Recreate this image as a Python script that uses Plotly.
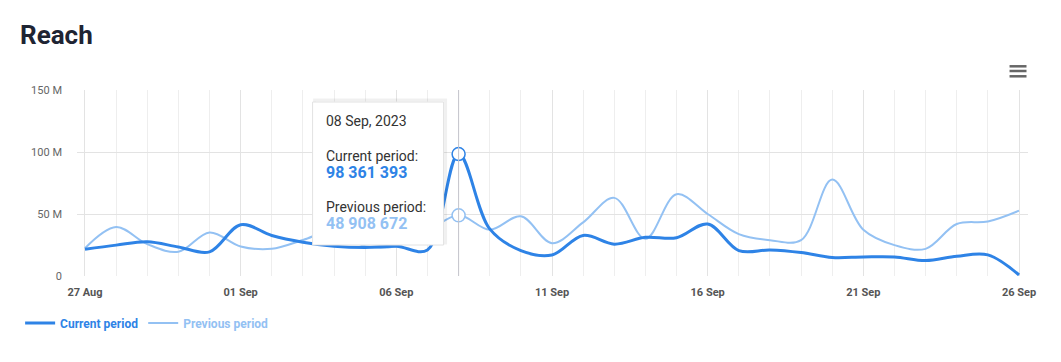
import pandas as pd
import plotly.graph_objects as go

# ---- data ----
dates = pd.date_range("2023-08-27", "2023-09-26", freq="D")
current_m = [21.6, 24.9, 27.6, 23.4, 19.5, 41.4, 32.7, 27.3, 24.0, 23.0, 24.0, 21.0,
             98.361393, 38.0, 20.5, 17.0, 32.7, 25.7, 31.2, 30.8, 41.9, 20.5,
             21.0, 18.9, 14.9, 15.4, 15.4, 12.4, 15.9, 17.0, 0.8]
previous_m = [22.4, 39.5, 25.7, 19.5, 35.1, 23.8, 21.9, 29.0, 36.5, 24.0, 24.0, 36.0,
              48.908672, 37.3, 48.1, 26.5, 43.2, 63.0, 30.0, 65.9, 50.0, 33.8,
              28.9, 28.9, 77.8, 37.3, 24.9, 21.9, 41.9, 44.0, 52.7]
current = [v * 1e6 for v in current_m]
previous = [v * 1e6 for v in previous_m]
y_tickvals = [0, 50e6, 100e6, 150e6]
y_ticktext = ["0", "50 M", "100 M", "150 M"]
hover_idx = 12

C_CUR = "#2e83e6"
C_PREV = "#93c1f3"
FONT = "Roboto"

# page has an 8px body margin -> figure drawn 8px in/down
W, H = 1053, 354
PL, PT = 67, 82          # plot area left / top in figure px
PW, PH = 953, 186        # plot area size

fig = go.Figure()
fig.add_trace(go.Scatter(
    x=dates, y=previous, mode="lines",
    name="<b><span style='color:%s'>Previous period</span></b>" % C_PREV,
    line=dict(color=C_PREV, width=2, shape="spline", smoothing=1),
))
fig.add_trace(go.Scatter(
    x=dates, y=current, mode="lines",
    name="<b><span style='color:%s'>Current period</span></b>" % C_CUR,
    line=dict(color=C_CUR, width=3, shape="spline", smoothing=1),
))
# hover markers
fig.add_trace(go.Scatter(
    x=[dates[hover_idx], dates[hover_idx]],
    y=[previous[hover_idx], current[hover_idx]],
    mode="markers", showlegend=False,
    marker=dict(size=13, color="white", line=dict(width=1.5, color=[C_PREV, C_CUR])),
))

day = pd.Timedelta(days=1)
x_range = [dates[0] - day * (8 / 31.2), dates[-1] + day * (9 / 31.2)]

fig.update_layout(
    width=W, height=H,
    margin=dict(l=PL, r=W - PL - PW, t=PT, b=H - PT - PH),
    paper_bgcolor="white", plot_bgcolor="white",
    font=dict(family=FONT, size=11, color="#666666"),
    hovermode=False,
    title=dict(text="<b>Reach</b>", x=12 / W, xref="container", xanchor="left",
               y=1 - 27 / H, yref="container", yanchor="middle",
               font=dict(family=FONT, size=26, color="#1e2433")),
    showlegend=True,
    legend=dict(orientation="h", x=(10 - PL) / PW, xanchor="left", y=-47 / PH, yanchor="middle",
                traceorder="reversed", font=dict(family=FONT, size=12),
                bgcolor="rgba(0,0,0,0)"),
    xaxis=dict(
        type="date", range=x_range,
        tick0=dates[0], dtick=5 * 86400000, tickformat="%d %b",
        showgrid=True, gridcolor="#e3e3e3", gridwidth=1,
        minor=dict(dtick=86400000, tick0=dates[0], showgrid=True, gridcolor="#eeeeee"),
        tickfont=dict(family=FONT, size=11, color="#555555", weight="bold"),
        ticks="", ticklabelstandoff=8, showline=False, zeroline=False,
    ),
    yaxis=dict(
        range=[0, 150e6], tickvals=y_tickvals, ticktext=y_ticktext,
        showgrid=True, gridcolor="#e3e3e3", gridwidth=1, zeroline=False,
        tickfont=dict(family=FONT, size=11, color="#666666"),
        ticks="", ticklabelstandoff=14, showline=False,
    ),
)

# crosshair
fig.add_shape(type="line", xref="x", yref="paper", x0=dates[hover_idx], x1=dates[hover_idx],
              y0=0, y1=1, line=dict(color="#c4c4cc", width=1), layer="above")

# tooltip box (pixel sized relative to hovered point)
fig.add_shape(type="rect", xref="x", yref="y", xsizemode="pixel", ysizemode="pixel",
              xanchor=dates[hover_idx], yanchor=150e6,
              x0=-144, x1=-13, y0=-153, y1=-10,
              line=dict(color="rgba(0,0,0,0.06)", width=3), fillcolor="rgba(0,0,0,0)", layer="above")
fig.add_shape(type="rect", xref="x", yref="y", xsizemode="pixel", ysizemode="pixel",
              xanchor=dates[hover_idx], yanchor=150e6,
              x0=-146, x1=-15, y0=-155, y1=-12,
              line=dict(color="#e2e2e2", width=1), fillcolor="white", layer="above")

def fmt(v):
    return f"{int(round(v)):,}".replace(",", " ")

lines = [
    ("08 Sep, 2023", 31, 14, "#333333", False),
    ("Current period:", 66, 14, "#333333", False),
    (fmt(current[hover_idx]), 82, 16, C_CUR, True),
    ("Previous period:", 117, 14, "#333333", False),
    (fmt(previous[hover_idx]), 133, 16, C_PREV, True),
]
for txt, dy, size, col, bold in lines:
    fig.add_annotation(
        x=dates[hover_idx], y=150e6, xref="x", yref="y",
        text=f"<b>{txt}</b>" if bold else txt, showarrow=False,
        xanchor="left", yanchor="middle", xshift=-135, yshift=-dy,
        font=dict(family=FONT, size=size, color=col),
    )

# menu icon
for py in (58.3, 63.0, 68.3):
    yp = (PT + PH - py) / PH
    fig.add_shape(type="line", xref="paper", yref="paper",
                  x0=(1001.5 - PL) / PW, x1=(1018.5 - PL) / PW, y0=yp, y1=yp,
                  line=dict(color="#666666", width=2.5))

fig.write_html("out.html", config={"displayModeBar": False})
